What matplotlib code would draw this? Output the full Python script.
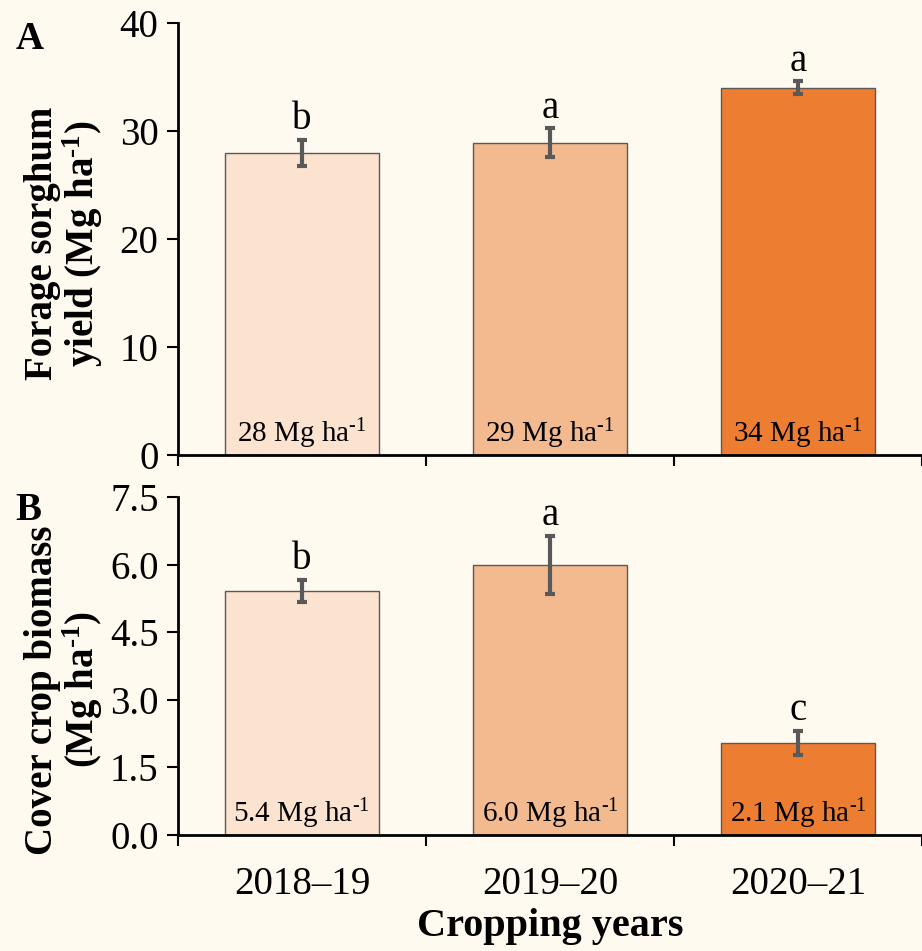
import numpy as np
import matplotlib
matplotlib.use("Agg")
import matplotlib.pyplot as plt

# ---------------------------------------------------
# data
# ---------------------------------------------------
years = ["2018\u201319", "2019\u201320", "2020\u201321"]

sorghum_yield = [28.0, 28.9, 34.0]
sorghum_err = [1.2, 1.35, 0.6]
sorghum_letters = ["b", "a", "a"]
sorghum_labels = ["28", "29", "34"]

cover_biomass = [5.42, 6.0, 2.05]
cover_err = [0.25, 0.65, 0.27]
cover_letters = ["b", "a", "c"]
cover_labels = ["5.4", "6.0", "2.1"]

bar_colors = ["#FBE3CF", "#F4BA8F", "#ED7D31"]
bg = "#FFFAF0"
grey = "#595959"

plt.rcParams["font.family"] = ["Liberation Serif", "DejaVu Serif"]
plt.rcParams["mathtext.fontset"] = "custom"
plt.rcParams["mathtext.rm"] = "Liberation Serif"
plt.rcParams["mathtext.bf"] = "Liberation Serif:bold"
plt.rcParams["mathtext.it"] = "Liberation Serif:italic"

# unit strings, superscript written with a plain hyphen
UNIT = "Mg ha$^{\\mathrm{\u2010}1}$"
UNIT_BF = "Mg ha$^{\\mathbf{\u2010}\\mathbf{1}}$"

fig = plt.figure(figsize=(9.22, 9.51), dpi=100, facecolor=bg)
ax_a = fig.add_axes([0.193, 0.5216, 0.807, 0.4542], facecolor=bg)
ax_b = fig.add_axes([0.193, 0.1220, 0.807, 0.3549], facecolor=bg)


def draw_panel(ax, vals, errs, letters, labels, ymax, yticks, ytick_fmt, ylabel):
    x = np.arange(len(vals))
    ax.bar(x, vals, width=0.62, color=bar_colors, edgecolor=grey, linewidth=1.0, zorder=2)
    ax.errorbar(x, vals, yerr=errs, fmt="none", ecolor=grey, elinewidth=3,
                capsize=3.5, capthick=3, zorder=3)
    for xi, v, e, lt in zip(x, vals, errs, letters):
        ax.annotate(lt, (xi, v + e), xytext=(0, 1), textcoords="offset points",
                    ha="center", va="bottom", fontsize=28)
    for xi, lb in zip(x, labels):
        ax.annotate(lb + " " + UNIT, (xi, 0), xytext=(0, 3),
                    textcoords="offset points", ha="center", va="bottom", fontsize=21)

    ax.set_xlim(-0.5, len(vals) - 0.5)
    ax.set_ylim(0, ymax)
    ax.set_yticks(yticks)
    ax.set_yticklabels([ytick_fmt.format(t) for t in yticks], fontsize=28)
    ax.set_xticks(np.arange(len(vals) + 1) - 0.5)
    ax.set_xticklabels([])
    ax.set_xticks(x, minor=True)
    ax.tick_params(axis="x", which="minor", length=0)
    ax.tick_params(axis="both", which="major", direction="out", length=8, width=1.5)
    ax.tick_params(axis="y", pad=6)
    for side in ["top", "right"]:
        ax.spines[side].set_visible(False)
    for side in ["left", "bottom"]:
        ax.spines[side].set_linewidth(2)
    ax.set_ylabel(ylabel, fontsize=28, fontweight="bold", linespacing=1.0)


draw_panel(ax_a, sorghum_yield, sorghum_err, sorghum_letters, sorghum_labels,
           40, [0, 10, 20, 30, 40], "{:.0f}",
           "Forage sorghum\nyield (" + UNIT_BF + ")")
draw_panel(ax_b, cover_biomass, cover_err, cover_letters, cover_labels,
           7.5, [0, 1.5, 3.0, 4.5, 6.0, 7.5], "{:.1f}",
           "Cover crop biomass\n(" + UNIT_BF + ")")

ax_a.yaxis.set_label_coords(-0.098, 0.49)
ax_b.yaxis.set_label_coords(-0.098, 0.43)

ax_b.set_xticklabels(years, minor=True, fontsize=28)
ax_b.tick_params(axis="x", which="minor", pad=22)
ax_b.set_xlabel("Cropping years", fontsize=29, fontweight="bold", labelpad=4)

fig.text(0.017, 0.958, "A", fontsize=28, fontweight="bold", va="center")
fig.text(0.017, 0.463, "B", fontsize=28, fontweight="bold", va="center")

fig.savefig("out.png", dpi=100, facecolor=bg)
